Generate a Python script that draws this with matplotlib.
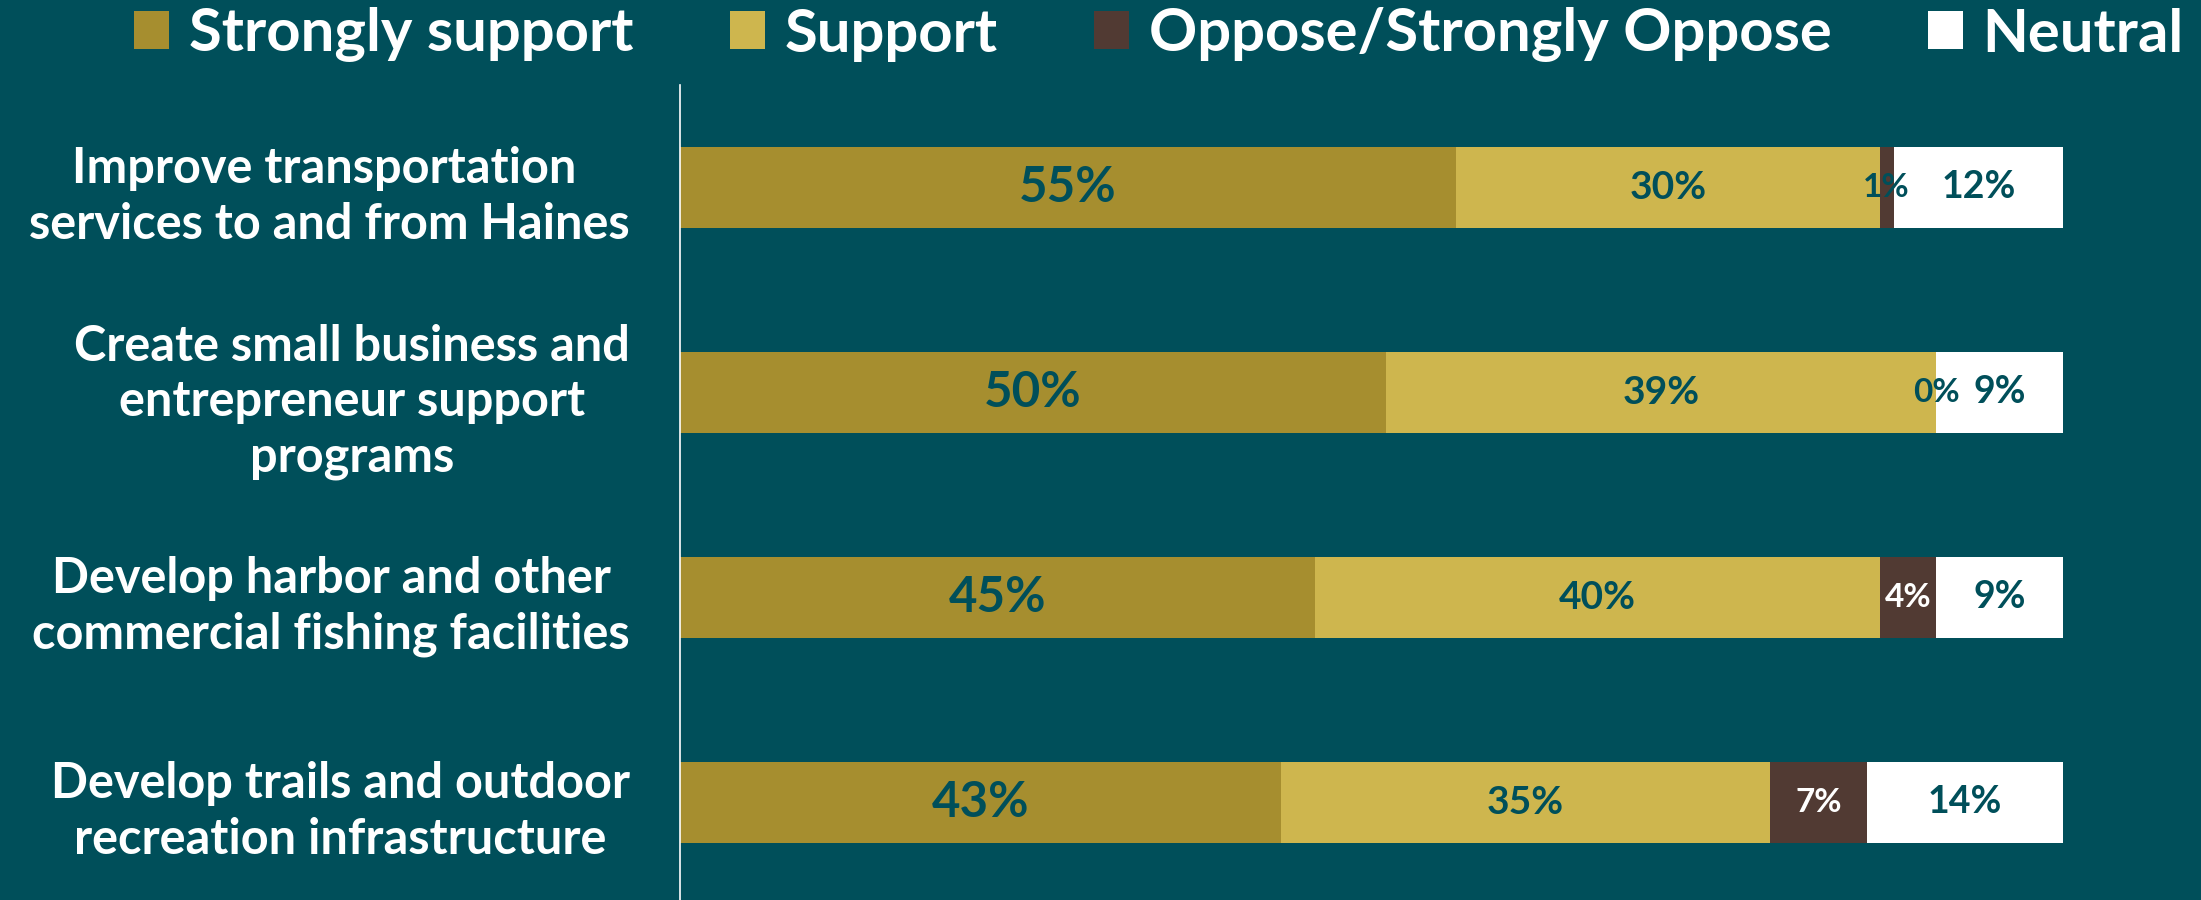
import matplotlib
matplotlib.use("Agg")
import matplotlib.pyplot as plt
import numpy as np

categories = [
    "Improve transportation \nservices to and from Haines",
    "Create small business and\nentrepreneur support\nprograms",
    "Develop harbor and other\ncommercial fishing facilities",
    "Develop trails and outdoor\nrecreation infrastructure",
]
series_names = ["Strongly support", "Support", "Oppose/Strongly Oppose", "Neutral"]
strongly_support = [55, 50, 45, 43]
support = [30, 39, 40, 35]
oppose = [1, 0, 4, 7]
neutral = [12, 9, 9, 14]

BG = "#004F5A"
colors = ["#A68E2F", "#CEB64E", "#513A33", "#FFFFFF"]
label_colors = [BG, BG, "#FFFFFF", BG]
label_sizes = [35.5, 28, 24, 27]

plt.rcParams['font.family'] = ['Lato', 'DejaVu Sans']

fig = plt.figure(figsize=(22.01, 9.0), dpi=100, facecolor=BG)
ax = fig.add_axes([680 / 2201, 0.0, (2063 - 680) / 2201, 815 / 900])
ax.set_facecolor(BG)

data = np.array([strongly_support, support, oppose, neutral], dtype=float)
totals = data.sum(axis=0)
shares = data / totals

y = np.arange(len(categories))
left = np.zeros(len(categories))
for i, name in enumerate(series_names):
    ax.barh(y, shares[i], left=left, height=0.395, color=colors[i],
            label=name, linewidth=0)
    for j in range(len(categories)):
        cx = left[j] + shares[i][j] / 2
        col = label_colors[i]
        if i == 2 and shares[i][j] < 0.02:
            col = BG
        ax.text(cx, y[j], f"{int(data[i][j])}%", ha="center", va="center",
                color=col, fontsize=label_sizes[i], fontweight="bold")
    left += shares[i]

ax.set_xlim(0, 1)
ax.set_ylim(3.476, -0.5)
ax.set_yticks(y)
ax.set_yticklabels(categories, fontsize=35, fontweight="bold", color="white",
                   multialignment="center", linespacing=1.28)
ax.tick_params(axis="y", length=0, pad=36)
ax.set_xticks([])
for s in ["top", "right", "bottom"]:
    ax.spines[s].set_visible(False)
ax.spines["left"].set_color("white")
ax.spines["left"].set_linewidth(1.2)

fig.legend(loc="center", bbox_to_anchor=(1159 / 2201, 1 - 35 / 900), ncol=4,
           frameon=False, prop={"weight": "bold", "size": 43},
           labelcolor="white", handlelength=0.58, handleheight=0.6,
           handletextpad=0.33, columnspacing=1.62, borderpad=0, borderaxespad=0)

fig.savefig("out.png", dpi=100, facecolor=BG)
